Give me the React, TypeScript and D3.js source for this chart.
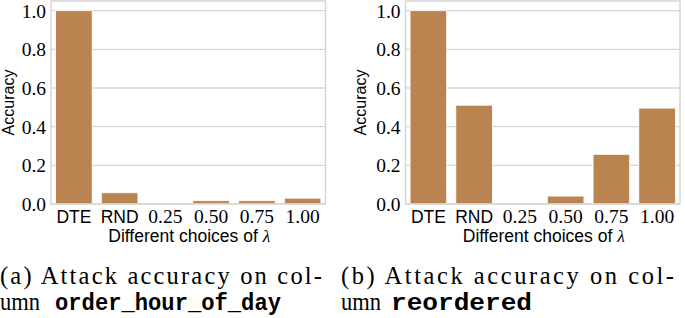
import React from "react";
import * as d3 from "d3";

const categories = ["DTE", "RND", "0.25", "0.50", "0.75", "1.00"];
const orderHourValues = [1.0, 0.058, 0.0, 0.017, 0.017, 0.03];
const reorderedValues = [1.0, 0.511, 0.0, 0.041, 0.257, 0.496];
const yTicks = [0, 0.2, 0.4, 0.6, 0.8, 1.0];
const xLabel = "Different choices of ";
const yLabel = "Accuracy";
const captionA1 = "(a) Attack accuracy on col-";
const captionA2 = "order_hour_of_day";
const captionB1 = "(b) Attack accuracy on col-";
const captionB2 = "reordered";

const SERIF = "'Liberation Serif', 'DejaVu Serif', serif";
const SANS = "'Liberation Sans', 'DejaVu Sans', sans-serif";
const MONO = "'Liberation Mono', 'DejaVu Sans Mono', monospace";
const BAR = "#ba8450";
const GRID = "#d6d6d6";

function Panel({ values, x0, x1, labelX }: { values: number[]; x0: number; x1: number; labelX: number }) {
  const top = 1;
  const bottom = 204;
  const x = d3.scaleBand().domain(categories).range([x0, x1]).paddingInner(0.2).paddingOuter(0.1);
  const y = d3.scaleLinear().domain([0, 1.05]).range([bottom, top]);
  const isSans = (c: string) => /[A-Z]/.test(c);
  return (
    <g>
      {yTicks.map((t) => (
        <g key={t}>
          <line x1={x0} x2={x1} y1={y(t)} y2={y(t)} stroke={GRID} strokeWidth={1.3} />
          <text x={x0 - 5} y={y(t)} dy="0.36em" textAnchor="end" fontFamily={SERIF} fontSize={19.5} fill="#000">
            {t.toFixed(1)}
          </text>
        </g>
      ))}
      {categories.map((c, i) => (
        <rect
          key={c}
          x={x(c)!}
          y={y(values[i])}
          width={x.bandwidth()}
          height={bottom - y(values[i])}
          fill={BAR}
          stroke="#fff"
          strokeWidth={0.8}
        />
      ))}
      <rect x={x0} y={top} width={x1 - x0} height={bottom - top} fill="none" stroke={GRID} strokeWidth={1.5} />
      {categories.map((c) => (
        <text
          key={c}
          x={x(c)! + x.bandwidth() / 2}
          y={223}
          textAnchor="middle"
          fontFamily={isSans(c) ? SANS : SERIF}
          fontSize={isSans(c) ? 17.5 : 19.5}
          fill="#000"
        >
          {c}
        </text>
      ))}
      <text x={(x0 + x1) / 2 + 1} y={242} textAnchor="middle" fontFamily={SANS} fontSize={17.5} fill="#000">
        {xLabel}
        <tspan fontFamily={SERIF} fontStyle="italic">λ</tspan>
      </text>
      <text
        transform={`translate(${labelX},${(top + bottom) / 2}) rotate(-90)`}
        textAnchor="middle"
        fontFamily={SANS}
        fontSize={16}
        fill="#000"
      >
        {yLabel}
      </text>
    </g>
  );
}

export default function App() {
  return (
    <svg
      width={685}
      height={318}
      style={{ position: "absolute", left: 0, top: 0, background: "#fff" }}
    >
      <rect width={685} height={318} fill="#fff" />
      <Panel values={orderHourValues} x0={51} x1={325.5} labelX={14} />
      <Panel values={reorderedValues} x0={405.5} x1={680} labelX={366} />
      <text x={0} y={284} fontFamily={SERIF} fontSize={24.5} fill="#000" textLength={322} lengthAdjust="spacing">
        {captionA1}
      </text>
      <text x={0} y={310} fontFamily={SERIF} fontSize={24.5} fill="#000" textLength={40} lengthAdjust="spacingAndGlyphs">umn</text>
      <text x={55} y={310} fontFamily={MONO} fontWeight="bold" fontSize={24} fill="#000" textLength={226} lengthAdjust="spacingAndGlyphs">
        {captionA2}
      </text>
      <text x={341} y={284} fontFamily={SERIF} fontSize={24.5} fill="#000" textLength={333} lengthAdjust="spacing">
        {captionB1}
      </text>
      <text x={341} y={310} fontFamily={SERIF} fontSize={24.5} fill="#000" textLength={40} lengthAdjust="spacingAndGlyphs">umn</text>
      <text x={391} y={310} fontFamily={MONO} fontWeight="bold" fontSize={24} fill="#000" textLength={141} lengthAdjust="spacingAndGlyphs">
        {captionB2}
      </text>
    </svg>
  );
}
